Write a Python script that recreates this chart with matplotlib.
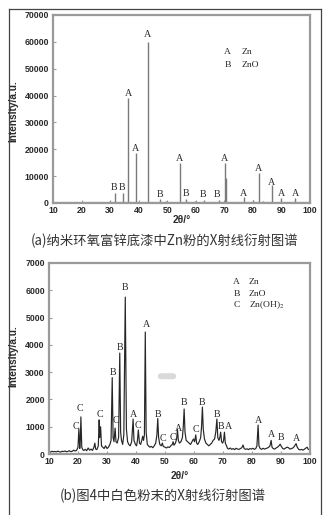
import matplotlib
matplotlib.use('Agg')
import matplotlib.pyplot as plt
from matplotlib.lines import Line2D
from matplotlib.patches import FancyBboxPatch

plt.rcParams['font.family'] = ['Liberation Sans', 'DejaVu Sans']
plt.rcParams['mathtext.fontset'] = 'stix'

W, H, DPI = 331, 515, 100

# (a) Zn powder in the primer: stick pattern
peaks_a = [19.9, 30.1, 31.8, 34.4, 36.3, 39.0, 43.2, 47.5, 49.6, 54.3, 56.6,
           59.8, 62.9, 68.0, 70.1, 70.6, 77.0, 80.0, 82.1, 83.6, 86.6, 90.0, 94.9]
heights_a = [500, 600, 3700, 3700, 39000, 18600, 59900, 1500, 700, 14900, 1500,
             700, 1100, 1100, 14900, 9300, 2200, 1200, 11150, 900, 6700, 1800, 1800]
labels_a = ['A', 'B', 'B', 'A', 'A', 'B', 'A', 'B', 'B', 'B', 'A', 'A', 'A', 'A',
            'A', 'A']
label_x_a = [43.2, 31.5, 34.0, 36.3, 39.0, 47.4, 54.2, 56.6, 62.7, 67.6, 70.1,
             76.8, 82.0, 86.7, 89.9, 94.8]
label_y_a = [62800, 5600, 5600, 40900, 20400, 3000, 16400, 3700, 3000, 3000, 16400,
             3700, 13000, 7800, 3700, 3700]
legend_a = [('A', 'Zn'), ('B', 'ZnO')]

# (b) white powder: measured profile
tt_b = [10.0, 10.5, 11.0, 11.5, 12.0, 12.5, 13.0, 13.5, 14.0, 14.5, 15.0, 15.5,
        16.0, 16.5, 17.0, 17.5, 18.0, 18.5, 19.0, 19.5, 20.0, 20.3, 20.6, 20.8,
        21.0, 21.3, 21.7, 22.0, 22.5, 23.0, 23.5, 24.0, 24.5, 25.0, 25.5, 25.8,
        26.1, 26.5, 27.0, 27.3, 27.5, 27.8, 28.1, 28.5, 29.0, 29.5, 30.0, 30.5,
        31.0, 31.4, 31.8, 32.1, 32.4, 32.8, 33.1, 33.5, 34.0, 34.4, 34.7, 35.0,
        35.4, 35.8, 36.3, 36.7, 37.1, 37.5, 38.0, 38.5, 39.0, 39.3, 39.8, 40.2,
        40.5, 40.8, 41.2, 41.6, 42.0, 42.3, 42.6, 42.9, 43.2, 43.5, 43.9, 44.3,
        44.8, 45.3, 45.8, 46.3, 46.8, 47.2, 47.5, 47.8, 48.2, 48.7, 49.1, 49.4,
        50.0, 50.5, 51.0, 51.5, 52.0, 52.5, 52.8, 53.1, 53.6, 54.0, 54.3, 54.6,
        55.0, 55.5, 56.0, 56.3, 56.6, 56.9, 57.3, 57.8, 58.3, 58.8, 59.3, 59.8,
        60.2, 60.6, 60.9, 61.3, 61.8, 62.3, 62.6, 62.9, 63.2, 63.6, 64.1, 64.6,
        65.1, 65.6, 66.1, 66.6, 67.1, 67.5, 67.9, 68.2, 68.6, 68.9, 69.2, 69.5,
        69.9, 70.2, 70.5, 70.8, 71.2, 71.6, 72.0, 72.5, 73.0, 73.5, 74.0, 74.5,
        75.0, 75.5, 76.0, 76.5, 76.9, 77.3, 77.8, 78.3, 78.8, 79.3, 79.8, 80.3,
        80.8, 81.3, 81.7, 82.1, 82.4, 82.8, 83.3, 83.8, 84.3, 84.8, 85.3, 85.8,
        86.2, 86.6, 86.9, 87.3, 87.8, 88.3, 88.8, 89.3, 89.7, 90.1, 90.6, 91.1,
        91.6, 92.1, 92.6, 93.1, 93.6, 94.1, 94.6, 95.2, 95.6, 96.1, 96.6, 97.1,
        97.6, 98.1, 98.6, 99.0, 99.4, 100.0]
int_b = [90, 70, 100, 80, 95, 75, 105, 85, 70, 100, 90, 110,
         80, 95, 120, 85, 100, 140, 110, 130, 250, 920, 200, 500,
         1360, 250, 150, 130, 170, 120, 220, 140, 180, 130, 250, 400,
         180, 160, 300, 1250, 600, 1000, 300, 250, 200, 300, 200, 250,
         350, 500, 2800, 600, 450, 950, 450, 400, 600, 3700, 800, 500,
         350, 700, 5750, 900, 450, 350, 300, 450, 1280, 500, 350, 300,
         500, 880, 400, 350, 500, 650, 500, 700, 4470, 800, 350, 300,
         250, 280, 230, 300, 400, 700, 1300, 600, 350, 300, 400, 280,
         250, 220, 260, 240, 300, 350, 450, 320, 400, 550, 900, 500,
         400, 450, 600, 1000, 1650, 800, 500, 450, 400, 350, 450, 550,
         450, 700, 400, 350, 450, 600, 1000, 1720, 900, 550, 400, 350,
         300, 350, 400, 500, 550, 800, 1280, 600, 500, 600, 800, 450,
         400, 500, 800, 400, 300, 200, 180, 220, 170, 200, 160, 210,
         180, 170, 200, 230, 330, 200, 170, 190, 160, 200, 180, 210,
         170, 200, 300, 1060, 300, 200, 170, 210, 180, 200, 220, 250,
         300, 500, 250, 200, 180, 220, 250, 300, 360, 280, 200, 180,
         220, 250, 230, 180, 200, 220, 280, 380, 250, 170, 150, 170,
         140, 180, 220, 250, 170, 150]
labels_b = ['C', 'C', 'C', 'B', 'C', 'B', 'B', 'A', 'C', 'A', 'B', 'C', 'C', 'A',
            'B', 'C', 'B', 'B', 'B', 'A', 'A', 'A', 'B', 'A']
label_x_b = [19.3, 20.7, 27.6, 32.1, 33.2, 34.6, 36.3, 39.1, 40.8, 43.5, 47.7, 49.4,
             52.6, 54.5, 56.4, 60.5, 62.9, 68.1, 69.2, 71.9, 82.3, 86.8, 89.9, 95.5]
label_y_b = [990, 1650, 1460, 2970, 1210, 3920, 6120, 1460, 1060, 4730, 1460, 550,
             590, 920, 1870, 880, 1870, 1430, 990, 990, 1210, 700, 620, 550]
legend_b = [('A', 'Zn'), ('B', 'ZnO'), ('C', r'Zn(OH)$_2$')]

captions = ['(a)纳米环氧富锌底漆中Zn粉的X射线衍射图谱',
            '(b)图4中白色粉末的X射线衍射图谱']

SPINE = '#9a9a9a'
INK = '#2a2a2a'


def style_axes(ax, ymax, ystep, ylab_x, ylab_y, xlab_y):
    for s in ax.spines.values():
        s.set_color(SPINE)
        s.set_linewidth(1.6)
    ax.set_xlim(10, 100)
    ax.set_ylim(0, ymax)
    ax.set_xticks(range(10, 101, 10))
    ax.set_yticks(range(0, ymax + 1, ystep))
    ax.tick_params(direction='in', length=2.5, width=0.8, color=SPINE,
                   labelsize=6.3, labelcolor=INK)
    ax.tick_params(axis='x', pad=2.5)
    ax.tick_params(axis='y', pad=3)
    for t in ax.get_xticklabels() + ax.get_yticklabels():
        t.set_fontweight('bold')
    ax.set_ylabel('Intensity/a.u.', fontsize=7.3, fontweight='bold', color=INK)
    ax.yaxis.set_label_coords(ylab_x, ylab_y)
    ax.set_xlabel('2θ/°', fontsize=7.3, fontweight='bold', color=INK)
    ax.xaxis.set_label_coords(0.5, xlab_y)


def put_letters(ax, xs, ys, letters):
    for x, y, s in zip(xs, ys, letters):
        ax.text(x, y, s, ha='center', va='center', fontsize=7.2,
                family='Liberation Serif', color=INK)


def put_legend(ax, items, x0, x1, y0, dy):
    for i, (k, name) in enumerate(items):
        y = y0 - i * dy
        ax.text(x0, y, k, ha='center', va='center', fontsize=6.8,
                family='Liberation Serif', color=INK)
        ax.text(x1, y, name, ha='left', va='center', fontsize=6.8,
                family='Liberation Serif', color=INK)


fig = plt.figure(figsize=(W / DPI, H / DPI), dpi=DPI)

ax1 = fig.add_axes([53 / W, 1 - 203 / H, 257 / W, 188 / H])
ax1.plot([10, 100], [250, 250], color='#444444', lw=0.8)
ax1.vlines(peaks_a, 0, heights_a, color='#7a7a7a', lw=1.0)
style_axes(ax1, 70000, 10000, -0.136, 0.49, -0.065)
put_letters(ax1, label_x_a, label_y_a, labels_a)
put_legend(ax1, legend_a, 71.1, 76.2, 56100, 4800)

ax2 = fig.add_axes([49 / W, 1 - 454 / H, 261 / W, 191 / H])
ax2.plot(tt_b, int_b, color='#262626', lw=0.85)
style_axes(ax2, 7000, 1000, -0.119, 0.51, -0.09)
put_letters(ax2, label_x_b, label_y_b, labels_b)
put_legend(ax2, legend_b, 74.7, 78.9, 6300, 420)
ax2.add_patch(FancyBboxPatch((47.5, 2740), 6.4, 220,
                             boxstyle='round,pad=0,rounding_size=1.2',
                             mutation_aspect=120, fc='#d9d9d9', ec='none'))

fig.text(165 / W, 1 - 241 / H, captions[0], ha='center', va='center',
         fontsize=9.6, color='#333333', family=['Noto Sans CJK SC', 'DejaVu Sans'])
fig.text(163 / W, 1 - 496 / H, captions[1], ha='center', va='center',
         fontsize=9.6, color='#333333', family=['Noto Sans CJK SC', 'DejaVu Sans'])

# outer frame (open at the bottom)
fx0, fx1, fy0 = 8.5 / W, 321 / W, 1 - 8.5 / H
fig.add_artist(Line2D([fx0, fx1], [fy0, fy0], color='#444444', lw=0.9))
fig.add_artist(Line2D([fx0, fx0], [fy0, 0], color='#444444', lw=0.9))
fig.add_artist(Line2D([fx1, fx1], [fy0, 0], color='#444444', lw=0.9))

fig.savefig('out.png', dpi=DPI)
